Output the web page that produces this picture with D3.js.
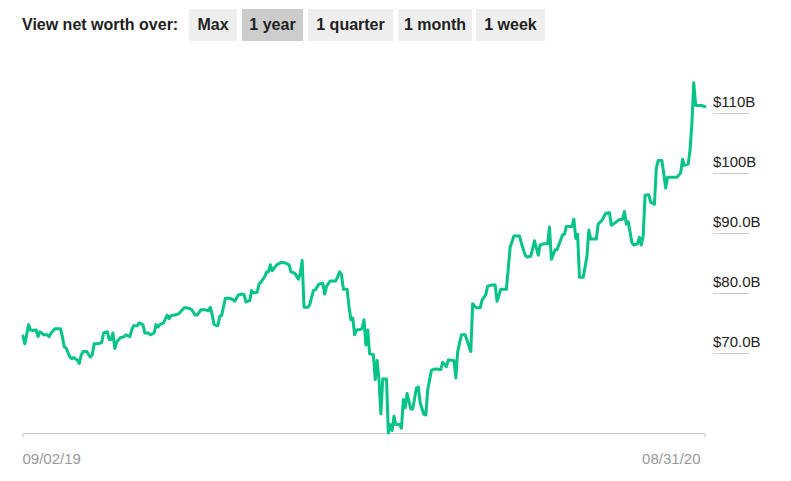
<!DOCTYPE html>
<html>
<head>
<meta charset="utf-8">
<script src="https://cdn.jsdelivr.net/npm/d3@7/dist/d3.min.js"></script>
<style>
  html, body { margin: 0; padding: 0; background: #fff; }
  svg { display: block; font-family: "Liberation Sans", Arial, Helvetica, sans-serif; }
</style>
</head>
<body>
<svg id="chart" width="791" height="481"></svg>
<script>
// ---- data ----
const periodButtons = ["Max", "1 year", "1 quarter", "1 month", "1 week"];
const selectedPeriod = "1 year";
const headerLabel = "View net worth over:";

const xTickLabels = ["09/02/19", "08/31/20"];
const yTickValues = [70, 80, 90, 100, 110];
const yTickLabels = ["$70.0B", "$80.0B", "$90.0B", "$100B", "$110B"];

const dates = [
  "2019-09-02","2019-09-03","2019-09-05","2019-09-06","2019-09-07","2019-09-09","2019-09-10","2019-09-11","2019-09-12","2019-09-13",
  "2019-09-15","2019-09-16","2019-09-17","2019-09-19","2019-09-22","2019-09-23","2019-09-24","2019-09-25","2019-09-27","2019-09-28",
  "2019-09-29","2019-10-01","2019-10-02","2019-10-03","2019-10-04","2019-10-06","2019-10-07","2019-10-08","2019-10-09","2019-10-10",
  "2019-10-12","2019-10-14","2019-10-15","2019-10-17","2019-10-18","2019-10-19","2019-10-20","2019-10-21","2019-10-22","2019-10-24",
  "2019-10-26","2019-10-27","2019-10-29","2019-10-30","2019-10-31","2019-11-02","2019-11-03","2019-11-05","2019-11-06","2019-11-08",
  "2019-11-09","2019-11-11","2019-11-12","2019-11-13","2019-11-14","2019-11-16","2019-11-18","2019-11-19","2019-11-20","2019-11-22",
  "2019-11-24","2019-11-25","2019-11-27","2019-11-28","2019-11-30","2019-12-01","2019-12-03","2019-12-04","2019-12-06","2019-12-08",
  "2019-12-10","2019-12-11","2019-12-12","2019-12-13","2019-12-15","2019-12-16","2019-12-17","2019-12-19","2019-12-21","2019-12-23",
  "2019-12-24","2019-12-26","2019-12-28","2019-12-29","2019-12-30","2020-01-01","2020-01-02","2020-01-03","2020-01-05","2020-01-06",
  "2020-01-07","2020-01-09","2020-01-10","2020-01-11","2020-01-12","2020-01-13","2020-01-15","2020-01-16","2020-01-18","2020-01-20",
  "2020-01-22","2020-01-23","2020-01-25","2020-01-27","2020-01-28","2020-01-29","2020-01-30","2020-02-01","2020-02-02","2020-02-04",
  "2020-02-05","2020-02-07","2020-02-09","2020-02-10","2020-02-11","2020-02-13","2020-02-15","2020-02-16","2020-02-18","2020-02-19",
  "2020-02-20","2020-02-22","2020-02-23","2020-02-24","2020-02-25","2020-02-26","2020-02-27","2020-02-29","2020-03-01","2020-03-02",
  "2020-03-03","2020-03-04","2020-03-05","2020-03-07","2020-03-08","2020-03-09","2020-03-10","2020-03-11","2020-03-12","2020-03-14",
  "2020-03-15","2020-03-16","2020-03-17","2020-03-18","2020-03-19","2020-03-21","2020-03-22","2020-03-23","2020-03-24","2020-03-25",
  "2020-03-27","2020-03-28","2020-03-30","2020-03-31","2020-04-01","2020-04-03","2020-04-04","2020-04-05","2020-04-07","2020-04-09",
  "2020-04-12","2020-04-13","2020-04-15","2020-04-16","2020-04-19","2020-04-20","2020-04-21","2020-04-23","2020-04-25","2020-04-28",
  "2020-04-29","2020-05-01","2020-05-03","2020-05-04","2020-05-06","2020-05-07","2020-05-09","2020-05-11","2020-05-12","2020-05-14",
  "2020-05-17","2020-05-19","2020-05-21","2020-05-24","2020-05-25","2020-05-27","2020-05-28","2020-05-30","2020-06-01","2020-06-03",
  "2020-06-04","2020-06-06","2020-06-08","2020-06-09","2020-06-10","2020-06-12","2020-06-13","2020-06-16","2020-06-17","2020-06-18",
  "2020-06-21","2020-06-22","2020-06-23","2020-06-24","2020-06-25","2020-06-27","2020-06-29","2020-06-30","2020-07-01","2020-07-04",
  "2020-07-05","2020-07-07","2020-07-09","2020-07-11","2020-07-12","2020-07-14","2020-07-16","2020-07-18","2020-07-19","2020-07-20",
  "2020-07-21","2020-07-23","2020-07-24","2020-07-26","2020-07-27","2020-07-28","2020-07-29","2020-07-30","2020-08-01","2020-08-02",
  "2020-08-04","2020-08-05","2020-08-06","2020-08-08","2020-08-09","2020-08-10","2020-08-11","2020-08-13","2020-08-16","2020-08-18",
  "2020-08-19","2020-08-20","2020-08-22","2020-08-23","2020-08-24","2020-08-25","2020-08-26","2020-08-27","2020-08-29","2020-08-31"
];

// net worth, $ billions
const netWorth = [
  72.8,71.5,74.7,73.8,73.7,73.8,72.7,73.5,73.3,73.0,
  73.0,72.7,73.3,74.0,74.0,72.7,71.0,70.8,69.3,69.0,
  69.2,68.8,68.2,69.5,70.2,70.2,69.7,69.3,69.7,71.5,
  71.5,71.7,73.3,73.5,72.2,72.2,73.3,70.7,71.8,72.5,
  72.7,73.0,72.7,73.8,74.5,74.5,75.0,74.7,73.3,73.3,
  73.0,73.3,74.7,74.3,74.7,75.0,76.3,75.7,76.2,76.3,
  76.5,76.8,77.5,77.5,77.4,77.2,76.3,76.3,77.2,77.2,
  77.0,77.6,76.3,74.7,74.5,76.1,76.2,79.1,79.1,78.9,
  78.6,79.7,79.8,79.7,78.5,78.7,80.4,80.0,80.1,81.5,
  81.8,82.7,83.5,83.5,84.7,83.7,84.5,84.8,85.1,85.0,
  84.7,83.5,83.3,82.3,83.3,85.4,77.6,77.6,78.0,80.4,
  80.5,81.5,81.6,79.8,81.1,82.0,82.0,82.0,83.5,83.0,
  80.6,80.6,77.7,75.5,75.8,73.0,73.8,73.9,74.1,75.5,
  71.3,73.8,69.8,69.7,65.5,68.7,65.5,59.8,65.6,65.6,
  56.6,58.0,57.0,59.4,58.0,58.0,57.4,62.2,60.8,63.2,
  60.6,60.6,64.1,64.3,61.6,59.7,59.6,63.8,67.1,67.3,
  67.2,68.4,67.7,68.8,68.7,65.8,70.2,73.0,73.0,70.2,
  78.2,77.5,77.5,78.8,79.7,81.1,81.3,81.3,78.6,80.6,
  80.6,87.6,89.5,89.5,88.3,86.3,86.0,86.1,88.7,86.3,
  88.0,88.2,88.2,91.0,85.6,87.2,87.2,89.7,89.8,91.1,
  91.1,92.3,89.1,89.8,82.6,82.6,86.1,90.5,89.0,89.0,
  91.5,92.1,93.3,93.4,91.3,91.7,92.2,92.3,93.6,91.5,
  91.9,88.4,88.0,88.2,89.3,88.0,89.5,96.3,96.4,95.1,
  94.8,100.8,102.1,102.1,99.9,97.5,99.3,99.3,99.3,100.0,
  102.3,101.3,101.5,103.8,108.3,115.1,111.3,111.3,111.3,111.1
];

// ---- drawing ----
const parse = d3.timeParse("%Y-%m-%d");
const series = dates.map((d, i) => ({ date: parse(d), value: netWorth[i] }));

const svg = d3.select("#chart");
const font = '"Liberation Sans", Arial, Helvetica, sans-serif';

// header
svg.append("text")
  .attr("x", 22).attr("y", 30)
  .attr("font-size", 16).attr("font-weight", "bold")
  .attr("fill", "#222")
  .text(headerLabel);

const btnX = [189, 242, 308, 398, 476];
const btnW = [48, 61, 85, 74, 69];
const btns = svg.append("g").selectAll("g").data(periodButtons).join("g")
  .attr("transform", (d, i) => `translate(${btnX[i]},9)`);
btns.append("rect")
  .attr("width", (d, i) => btnW[i]).attr("height", 32)
  .attr("fill", d => d === selectedPeriod ? "#cccccc" : "#eeeeee");
btns.append("text")
  .attr("x", (d, i) => btnW[i] / 2).attr("y", 21)
  .attr("text-anchor", "middle")
  .attr("font-size", 16).attr("font-weight", "bold")
  .attr("fill", "#222")
  .text(d => d);

// scales
const x = d3.scaleTime()
  .domain([series[0].date, series[series.length - 1].date])
  .range([23, 705]);
const y = d3.scaleLinear()
  .domain(d3.extent(netWorth))
  .range([433, 82.7]);

// bottom axis
const xAxis = d3.axisBottom(x)
  .tickValues([series[0].date, series[series.length - 1].date])
  .tickSize(4)
  .tickFormat((d, i) => xTickLabels[i]);
const gx = svg.append("g").attr("transform", "translate(0,433.5)").call(xAxis);
gx.select(".domain").attr("stroke", "#cccccc").attr("d", `M${x.range()[0]},4V0H${x.range()[1]}V4`);
gx.selectAll(".tick line").remove();
gx.selectAll(".tick text")
  .attr("font-family", font).attr("font-size", 15).attr("fill", "#999")
  .attr("y", 20).attr("dy", "0.71em")
  .attr("text-anchor", (d, i) => i === 0 ? "start" : "end")
  .attr("x", (d, i) => i === 0 ? -1 : -5);

// right axis (labels with short underline)
const yg = svg.append("g").selectAll("g").data(yTickValues).join("g")
  .attr("transform", d => `translate(713,${Math.round(y(d)) + 0.5})`);
yg.append("line")
  .attr("x1", 0).attr("x2", 36)
  .attr("stroke", "#cccccc").attr("stroke-width", 1);
yg.append("text")
  .attr("x", 0).attr("y", -7)
  .attr("font-size", 15).attr("fill", "#222")
  .text((d, i) => yTickLabels[i]);

// line
const line = d3.line().x(d => x(d.date)).y(d => y(d.value));
svg.append("path")
  .datum(series)
  .attr("d", line)
  .attr("fill", "none")
  .attr("stroke", "#06c386")
  .attr("stroke-width", 3)
  .attr("stroke-linejoin", "round")
  .attr("stroke-linecap", "round");
</script>
</body>
</html>
